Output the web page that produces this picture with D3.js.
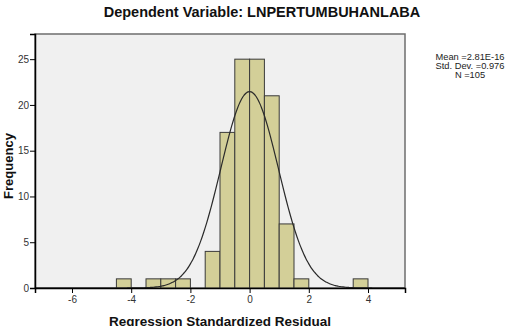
<!DOCTYPE html>
<html>
<head>
<meta charset="utf-8">
<script src="https://cdn.jsdelivr.net/npm/d3@7"></script>
<style>
  body { margin: 0; background: #fff; }
  svg { display: block; font-family: Arial, "Liberation Sans", sans-serif; }
</style>
</head>
<body>
<script>
// SVG size
var svgWidth = 521;
var svgHeight = 326;

// plot area edges
var margin = { top: 34, right: 116, bottom: 38, left: 35 };
var chartWidth = svgWidth - margin.left - margin.right;
var chartHeight = svgHeight - margin.top - margin.bottom;

// histogram bins (lower edge, upper edge) and counts
var binStart = [-4.5, -3.5, -3.0, -2.5, -1.5, -1.0, -0.5, 0.0, 0.5, 1.0, 1.5, 3.5];
var binEnd   = [-4.0, -3.0, -2.5, -2.0, -1.0, -0.5, 0.0, 0.5, 1.0, 1.5, 2.0, 4.0];
var counts   = [1, 1, 1, 1, 4, 17, 25, 25, 21, 7, 1, 1];

// summary stats for the normal curve
var mean = 2.81e-16;
var stdDev = 0.976;
var n = 105;
var binWidth = 0.5;

var xTicks = [-6, -4, -2, 0, 2, 4];
var yTicks = [0, 5, 10, 15, 20, 25];
var statLines = ["Mean =2.81E-16", "Std. Dev. =0.976", "N =105"];

var svg = d3.select("body")
  .append("svg")
  .attr("width", svgWidth)
  .attr("height", svgHeight);

var chartGroup = svg.append("g")
  .attr("transform", `translate(${margin.left}, ${margin.top})`);

var xScale = d3.scaleLinear()
  .domain([-7.25, 5.25])
  .range([0, chartWidth]);

var yScale = d3.scaleLinear()
  .domain([0, 27.75])
  .range([chartHeight, 0]);

// background of plot area
chartGroup.append("rect")
  .attr("width", chartWidth)
  .attr("height", chartHeight)
  .attr("fill", "#f0f0f0")
  .attr("stroke", "#6e6e6e")
  .attr("stroke-width", 1.5);

// bars
chartGroup.selectAll(".bar")
  .data(counts)
  .enter()
  .append("rect")
  .attr("class", "bar")
  .attr("x", (d, i) => xScale(binStart[i]))
  .attr("width", (d, i) => xScale(binEnd[i]) - xScale(binStart[i]))
  .attr("y", d => yScale(d))
  .attr("height", d => chartHeight - yScale(d))
  .attr("fill", "#d3cf98")
  .attr("stroke", "#3a3a3a")
  .attr("stroke-width", 1);

// normal curve
var curvePts = d3.range(-7.25, 5.26, 0.05);
var drawLine = d3.line()
  .x(v => xScale(v))
  .y(v => yScale(n * binWidth / (stdDev * Math.sqrt(2 * Math.PI)) *
      Math.exp(-0.5 * Math.pow((v - mean) / stdDev, 2))))
  .curve(d3.curveBasis);

chartGroup.append("path")
  .attr("d", drawLine(curvePts))
  .attr("fill", "none")
  .attr("stroke", "#2a2a2a")
  .attr("stroke-width", 1.2);

// axes (plain hyphen for negatives, like the original)
var xAxis = d3.axisBottom(xScale).tickValues(xTicks).tickSize(5).tickPadding(3)
  .tickFormat(d => String(d));
var yAxis = d3.axisLeft(yScale).tickValues(yTicks).tickSize(5).tickPadding(1)
  .tickFormat(d => String(d));

var gx = chartGroup.append("g")
  .attr("transform", `translate(0, ${chartHeight})`)
  .call(xAxis);
var gy = chartGroup.append("g")
  .call(yAxis);

[gx, gy].forEach(function(g) {
  g.select(".domain").attr("stroke", "#000").attr("stroke-width", 1.5);
  g.selectAll(".tick line").attr("stroke", "#000");
  g.selectAll(".tick text").attr("fill", "#333").style("font-size", "10px");
});

// title
svg.append("text")
  .attr("x", 262)
  .attr("y", 17)
  .attr("text-anchor", "middle")
  .style("font-size", "14.5px")
  .style("font-weight", "bold")
  .attr("fill", "#111")
  .text("Dependent Variable: LNPERTUMBUHANLABA");

// axis labels
svg.append("text")
  .attr("x", margin.left + chartWidth / 2)
  .attr("y", 325.5)
  .attr("text-anchor", "middle")
  .style("font-size", "13.5px")
  .style("font-weight", "bold")
  .attr("fill", "#111")
  .text("Regression Standardized Residual");

svg.append("text")
  .attr("transform", `translate(12.5, ${margin.top + chartHeight / 2 + 5}) rotate(-90)`)
  .attr("text-anchor", "middle")
  .style("font-size", "13px")
  .style("font-weight", "bold")
  .attr("fill", "#111")
  .text("Frequency");

// stats box text
svg.selectAll(".stat")
  .data(statLines)
  .enter()
  .append("text")
  .attr("class", "stat")
  .attr("x", 470)
  .attr("y", (d, i) => 60 + i * 9)
  .attr("text-anchor", "middle")
  .style("font-size", "9.3px")
  .attr("fill", "#222")
  .text(d => d);
</script>
</body>
</html>
